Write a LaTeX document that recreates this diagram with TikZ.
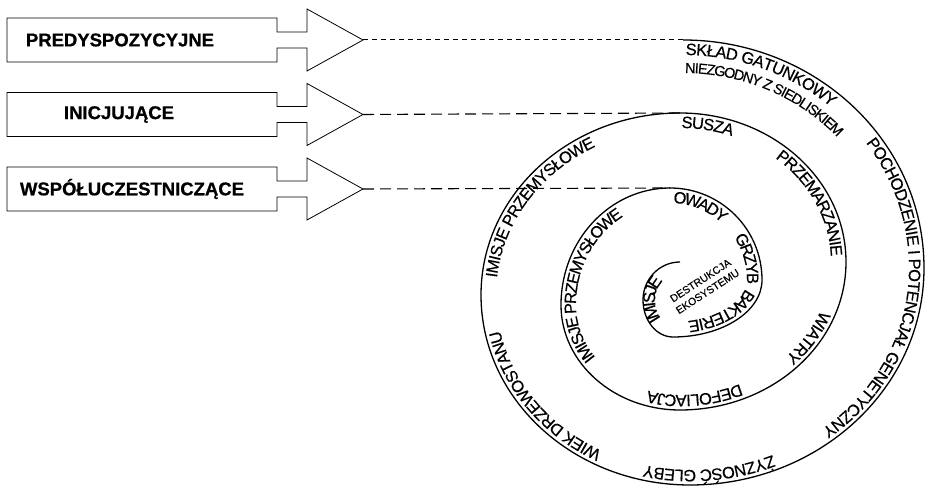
\documentclass[tikz,border=0pt]{standalone}
\usepackage{fontspec}
\setmainfont{Liberation Sans}
\newfontfamily\catfam[FakeBold=0.8]{Liberation Sans Bold}
\newfontfamily\lbfam[FakeBold=0.4]{Liberation Sans}
\usetikzlibrary{decorations.text}
\newcommand\catfont{\catfam\fontsize{18.5}{20}\selectfont}
\newcommand\lbfont{\lbfam\fontsize{16.5}{17}\selectfont}
\newcommand\smfont{\lbfam\fontsize{14.5}{15}\selectfont}
\newcommand\inrfont{\lbfam\fontsize{17}{18}\selectfont}
\newcommand\corefont{\lbfam\fontsize{10.5}{13}\selectfont}
\begin{document}
\begin{tikzpicture}[x=1pt,y=1pt,
  arrowbox/.style={draw=black, line width=0.8pt, line join=miter},
  spiral/.style={draw=black, line width=1.3pt},
  dashA/.style={draw=black, line width=1pt, dash pattern=on 5pt off 4pt},
  dashB/.style={draw=black, line width=1.1pt, dash pattern=on 11pt off 6pt},
  catlabel/.style={font=\catfont, inner sep=0pt},
  corelabel/.style={font=\corefont, inner sep=0pt, align=center, rotate=33}]
\useasboundingbox (0,0) rectangle (926,487);
% block arrows
\foreach \c/\n in {447/1, 372.5/2, 298/3}{
  \draw[arrowbox] (7,\c+22) -- (277,\c+22) -- (277,\c+8) -- (307,\c+8) -- (307,\c+31)
    -- (363,\c) -- (307,\c-31) -- (307,\c-8) -- (277,\c-8) -- (277,\c-22) -- (7,\c-22) -- cycle;
  \coordinate (tip\n) at (363,\c);
}
\node[catlabel] (k1) at (120,447) {PREDYSPOZYCYJNE};
\node[catlabel] (k2) at (119,372.5) {INICJUJĄCE};
\node[catlabel] (k3) at (132,298) {WSPÓŁUCZESTNICZĄCE};
% spiral
\coordinate (s0) at (683,447);
\coordinate (s1) at (680,374);
\coordinate (s2) at (670,299);
\draw[spiral] (s0)
  arc[start angle=90,end angle=0,x radius=241pt,y radius=228pt]
  arc[start angle=0,end angle=-90,x radius=234pt,y radius=217pt]
  arc[start angle=-90,end angle=-180,x radius=209pt,y radius=190pt]
  arc[start angle=180,end angle=90,x radius=199pt,y radius=182pt]
  arc[start angle=90,end angle=0,x radius=166pt,y radius=149pt]
  arc[start angle=0,end angle=-90,x radius=166pt,y radius=148pt]
  arc[start angle=-90,end angle=-180,x radius=119pt,y radius=105pt]
  arc[start angle=180,end angle=90,x radius=109pt,y radius=117pt]
  arc[start angle=90,end angle=0,x radius=92pt,y radius=92pt]
  arc[start angle=0,end angle=-90,x radius=89pt,y radius=57pt]
  arc[start angle=-90,end angle=-180,x radius=30pt,y radius=37pt]
  arc[start angle=180,end angle=90,x radius=37pt,y radius=38pt];
% dashed connectors
\draw[dashA] (tip1) -- (s0);
\draw[dashB] (tip2) -- (s1);
\draw[dashB] (tip3) -- (s2);
% outer turn labels
\path[decorate,decoration={text along path, raise=-15pt, text align={left indent=3pt},
  text={|\lbfont|SKŁAD GATUNKOWY}}]
  (s0) arc[start angle=90,end angle=0,x radius=241pt,y radius=228pt];
\path[decorate,decoration={text along path, raise=-33pt, text align={left indent=3pt},
  text={|\smfont|NIEZGODNY Z SIEDLISKIEM}}]
  (s0) arc[start angle=90,end angle=0,x radius=241pt,y radius=228pt]
  arc[start angle=0,end angle=-30,x radius=234pt,y radius=217pt];
\path[decorate,decoration={text along path, raise=-15pt,
  text={|\lbfont|POCHODZENIE I POTENCJAŁ GENETYCZNY}}]
  ([shift={(36:241 and 228)}]683,219)
  arc[start angle=36,end angle=0,x radius=241pt,y radius=228pt]
  arc[start angle=0,end angle=-88,x radius=234pt,y radius=217pt];
\path[decorate,decoration={text along path, raise=-15pt,
  text={|\lbfont|ŻYZNOŚĆ GLEBY}}]
  ([shift={(-68:234 and 217)}]690,219)
  arc[start angle=-68,end angle=-90,x radius=234pt,y radius=217pt]
  arc[start angle=-90,end angle=-150,x radius=209pt,y radius=190pt];
\path[decorate,decoration={text along path, raise=-15pt,
  text={|\lbfont|WIEK DRZEWOSTANU}}]
  ([shift={(-117:209 and 190)}]690,192)
  arc[start angle=-117,end angle=-180,x radius=209pt,y radius=190pt]
  arc[start angle=180,end angle=100,x radius=199pt,y radius=182pt];
\path[decorate,decoration={text along path, raise=-15pt,
  text={|\lbfont|IMISJE PRZEMYSŁOWE}}]
  ([shift={(174:199 and 182)}]680,192)
  arc[start angle=174,end angle=90,x radius=199pt,y radius=182pt]
  arc[start angle=90,end angle=0,x radius=166pt,y radius=149pt];
% middle turn labels
\path[decorate,decoration={text along path, raise=-15pt, text align={left indent=2pt},
  text={|\lbfont|SUSZA}}]
  (s1) arc[start angle=90,end angle=0,x radius=166pt,y radius=149pt];
\path[decorate,decoration={text along path, raise=-15pt,
  text={|\lbfont|PRZEMARZANIE}}]
  ([shift={(51:166 and 149)}]680,225)
  arc[start angle=51,end angle=0,x radius=166pt,y radius=149pt]
  arc[start angle=0,end angle=-80,x radius=166pt,y radius=148pt];
\path[decorate,decoration={text along path, raise=-15pt,
  text={|\lbfont|WIATRY}}]
  ([shift={(-22:166 and 148)}]680,225)
  arc[start angle=-22,end angle=-90,x radius=166pt,y radius=148pt]
  arc[start angle=-90,end angle=-150,x radius=119pt,y radius=105pt];
\path[decorate,decoration={text along path, raise=-15pt,
  text={|\lbfont|DEFOLIACJA}}]
  ([shift={(-67:166 and 148)}]680,225)
  arc[start angle=-67,end angle=-90,x radius=166pt,y radius=148pt]
  arc[start angle=-90,end angle=-180,x radius=119pt,y radius=105pt];
\path[decorate,decoration={text along path, raise=-15pt,
  text={|\lbfont|IMISJE PRZEMYSŁOWE}}]
  ([shift={(-144:119 and 105)}]680,182)
  arc[start angle=-144,end angle=-180,x radius=119pt,y radius=105pt]
  arc[start angle=180,end angle=90,x radius=109pt,y radius=117pt]
  arc[start angle=90,end angle=0,x radius=92pt,y radius=92pt];
% inner turn labels
\path[decorate,decoration={text along path, raise=-15pt,
  text={|\lbfont|OWADY}}]
  ([shift={(87:92 and 92)}]670,207)
  arc[start angle=87,end angle=0,x radius=92pt,y radius=92pt]
  arc[start angle=0,end angle=-90,x radius=89pt,y radius=57pt];
\path[decorate,decoration={text along path, raise=-15pt,
  text={|\lbfont|GRZYB}}]
  ([shift={(33:92 and 92)}]670,207)
  arc[start angle=33,end angle=0,x radius=92pt,y radius=92pt]
  arc[start angle=0,end angle=-90,x radius=89pt,y radius=57pt];
\path[decorate,decoration={text along path, raise=-15pt,
  text={|\lbfont|BAKTERIE}}]
  ([shift={(-17:89 and 57)}]673,207)
  arc[start angle=-17,end angle=-90,x radius=89pt,y radius=57pt]
  arc[start angle=-90,end angle=-180,x radius=30pt,y radius=37pt];
\path[decorate,decoration={text along path, raise=-12pt,
  text={|\inrfont|IMISJE}}]
  ([shift={(-138:30 and 37)}]673,187)
  arc[start angle=-138,end angle=-180,x radius=30pt,y radius=37pt]
  arc[start angle=180,end angle=20,x radius=37pt,y radius=38pt];
\node[corelabel] (core) at (704,201) {DESTRUKCJA\\EKOSYSTEMU};
\end{tikzpicture}
\end{document}
